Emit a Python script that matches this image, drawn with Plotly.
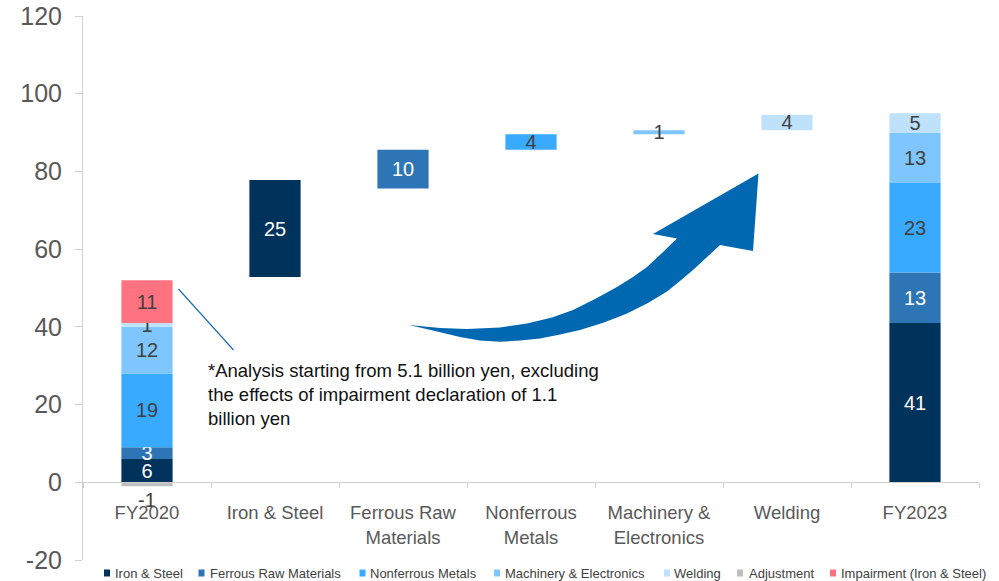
import plotly.graph_objects as go

# ---------------- data ----------------
categories = ["FY2020", "Iron & Steel", "Ferrous Raw<br>Materials", "Nonferrous<br>Metals",
              "Machinery &<br>Electronics", "Welding", "FY2023"]
series_names = ["Iron & Steel", "Ferrous Raw Materials", "Nonferrous Metals",
                "Machinery & Electronics", "Welding", "Adjustment", "Impairment (Iron & Steel)"]
fy2020_values = [6, 3, 19, 12, 1, -1, 11]
fy2023_values = [41, 13, 23, 13, 5, None, None]
step_values = [25, 10, 4, 1, 4]
step_bases = [52.8, 75.6, 85.6, 89.6, 90.6]
y_ticks = [-20, 0, 20, 40, 60, 80, 100, 120]
note_text = ("*Analysis starting from 5.1 billion yen, excluding<br>"
             "the effects of impairment declaration of 1.1<br>billion yen")

# ---------------- styles ----------------
colors = ["#00335B", "#2E75B6", "#38AAFF", "#7FC6FF", "#BFE1FC", "#BFBFBF", "#FF7381"]
label_colors = ["#FFFFFF", "#FFFFFF", "#404040", "#404040", "#404040", "#404040", "#404040"]
FONT = "Liberation Sans, Arial, sans-serif"
W, H = 999, 581
L, R, T, B = 83, 20, 16, 21
PW, PH = W - L - R, H - T - B


def px(x, y):
    return (x - L) / PW, (H - B - y) / PH


fig = go.Figure()

# stacked FY2020 / FY2023 bars, one trace per series
for i, name in enumerate(series_names):
    xs, ys = [], []
    for cat, v in ((categories[0], fy2020_values[i]), (categories[-1], fy2023_values[i])):
        if v is not None:
            xs.append(cat)
            ys.append(v)
    fig.add_trace(go.Bar(
        x=xs, y=ys, name=name, width=0.4,
        marker=dict(color=colors[i], line=dict(width=0)),
        text=[str(v) for v in ys],
        textposition="outside" if ys[0] < 0 else "inside",
        insidetextanchor="middle",
        constraintext="none", textangle=0,
        textfont=dict(family=FONT, size=20, color=label_colors[i]),
        cliponaxis=False,
        showlegend=False,
    ))

# floating step bars
fig.add_trace(go.Bar(
    x=categories[1:6], y=step_values, base=step_bases, width=0.4,
    marker=dict(color=colors[:5], line=dict(width=0)),
    text=[str(v) for v in step_values],
    textposition="inside", insidetextanchor="middle", constraintext="none", textangle=0,
    textfont=dict(family=FONT, size=20, color=label_colors[:5]),
    cliponaxis=False,
    showlegend=False,
))

shapes = []
annotations = []

# big curved arrow (decoration)
arrow_px = [(409, 325), (440, 328), (467, 329), (500, 327.5), (527, 323.5), (552, 317.5), (573, 310),
            (596, 298.5), (617, 287), (633, 277), (647, 267), (662, 253), (677, 238.5),
            (653, 234), (758.5, 173.5), (753, 251), (720, 245),
            (706, 258), (693, 270), (680, 281), (667, 291.5), (648, 303), (627, 313.5),
            (604, 322.5), (580, 330), (560, 334.5), (540, 338.5), (520, 340.5), (500, 341.8),
            (480, 340.5), (460, 337), (435, 331)]
pts = [px(x, y) for x, y in arrow_px]
path = "M " + " L ".join(f"{a:.5f},{b:.5f}" for a, b in pts) + " Z"
shapes.append(dict(type="path", xref="paper", yref="paper", path=path,
                   fillcolor="#0067B1", line=dict(width=0), layer="above"))

# leader line of the note
x0, y0 = px(178.5, 289)
x1, y1 = px(233.5, 350)
shapes.append(dict(type="line", xref="paper", yref="paper", x0=x0, y0=y0, x1=x1, y1=y1,
                   line=dict(color="#1F6FB8", width=1.2)))

nx, ny = px(206, 358)
annotations.append(dict(xref="paper", yref="paper", x=nx, y=ny, xanchor="left", yanchor="top",
                        text=note_text, showarrow=False, align="left",
                        font=dict(family=FONT, size=18.5, color="#111111")))

# manual legend
legend_sq_px = [104, 198.5, 359.5, 494, 664, 737, 830]
legend_tx_px = [112.5, 207.5, 368, 503, 672, 747, 839]
for i, name in enumerate(series_names):
    sx0, sy0 = px(legend_sq_px[i], 576.5)
    sx1, sy1 = px(legend_sq_px[i] + 6, 569.5)
    shapes.append(dict(type="rect", xref="paper", yref="paper", x0=sx0, y0=sy0, x1=sx1, y1=sy1,
                       fillcolor=colors[i], line=dict(width=0)))
    tx, ty = px(legend_tx_px[i], 573)
    annotations.append(dict(xref="paper", yref="paper", x=tx, y=ty, xanchor="left", yanchor="middle",
                            text=name, showarrow=False,
                            font=dict(family=FONT, size=13, color="#404040")))

fig.update_layout(
    width=W, height=H,
    margin=dict(l=L, r=R, t=T, b=B, pad=0),
    barmode="relative",
    plot_bgcolor="white", paper_bgcolor="white",
    font=dict(family=FONT, color="#595959"),
    shapes=shapes, annotations=annotations,
    showlegend=False,
    xaxis=dict(
        categoryorder="array", categoryarray=categories,
        anchor="free", position=(0 - y_ticks[0]) / (y_ticks[-1] - y_ticks[0]),
        showline=True, linecolor="#D0D0D0", linewidth=1,
        ticks="outside", tickson="boundaries", ticklen=5, tickcolor="#D0D0D0",
        tickfont=dict(family=FONT, size=18.5, color="#595959"),
        ticklabelstandoff=14,
        showgrid=False, zeroline=False, automargin=False,
        range=[-0.5, 6.5],
    ),
    yaxis=dict(
        range=[y_ticks[0], y_ticks[-1]], tickvals=y_ticks, ticktext=[str(v) for v in y_ticks],
        showline=True, linecolor="#D0D0D0", linewidth=1,
        ticks="outside", ticklen=7, tickcolor="#D0D0D0",
        tickfont=dict(family=FONT, size=25, color="#595959"),
        ticklabelstandoff=8,
        showgrid=False, zeroline=False, automargin=False,
    ),
)

fig.write_html("out.html", config={"displayModeBar": False},
               post_script="document.body.style.margin='0px';")
